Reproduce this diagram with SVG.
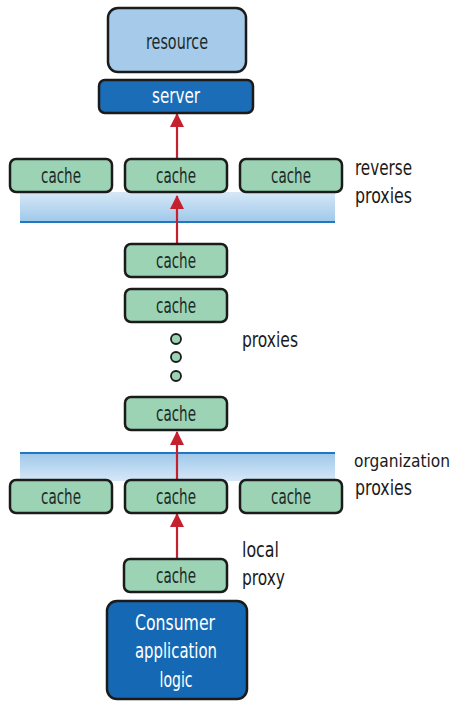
<svg xmlns="http://www.w3.org/2000/svg" width="459" height="704" viewBox="0 0 459 704">
<defs>
<style>
.cache rect{fill:#9bd3b4;stroke:#1b1b1b;stroke-width:2.5}
.t{font-family:"DejaVu Sans Condensed","DejaVu Sans","Liberation Sans",sans-serif;font-stretch:condensed;font-size:21px;fill:#1e2a28;text-anchor:middle}
.lbl{font-family:"DejaVu Sans Condensed","DejaVu Sans","Liberation Sans",sans-serif;font-stretch:condensed;font-size:22px;fill:#1a1a1a}
.w{fill:#ffffff}
.arr{stroke:#c4202e;stroke-width:2.2;fill:none}
.dot{fill:#9bd3b4;stroke:#1b1b1b;stroke-width:1.8}
</style>
<linearGradient id="bandDown" x1="0" y1="0" x2="0" y2="1">
<stop offset="0" stop-color="#d6e8f7"/>
<stop offset="1" stop-color="#9fc8ea"/>
</linearGradient>
<linearGradient id="bandUp" x1="0" y1="0" x2="0" y2="1">
<stop offset="0" stop-color="#9fc8ea"/>
<stop offset="1" stop-color="#d6e8f7"/>
</linearGradient>
<marker id="head" viewBox="0 0 14 14" refX="13" refY="7" markerWidth="14" markerHeight="14" orient="auto" markerUnits="userSpaceOnUse">
<path d="M0,0 L14,7 L0,14 z" fill="#c4202e"/>
</marker>
</defs>

<g id="bands">
<rect x="20" y="192" width="315" height="30" fill="url(#bandDown)"/>
<line x1="20" y1="222" x2="335" y2="222" stroke="#1f78c1" stroke-width="2"/>
<rect x="20" y="453" width="315" height="28" fill="url(#bandUp)"/>
<line x1="20" y1="453" x2="335" y2="453" stroke="#1f78c1" stroke-width="2"/>
</g>

<g id="connectors">
<line class="arr" x1="177" y1="158" x2="177" y2="114" marker-end="url(#head)"/>
<line class="arr" x1="177" y1="244" x2="177" y2="196" marker-end="url(#head)"/>
<line class="arr" x1="177" y1="480" x2="177" y2="432" marker-end="url(#head)"/>
<line class="arr" x1="177" y1="559" x2="177" y2="514" marker-end="url(#head)"/>
</g>

<g id="resource">
<rect x="108" y="8" width="138" height="64" rx="10" fill="#a6cbea" stroke="#1b1b1b" stroke-width="2.5"/>
<text class="t" x="177" y="49" textLength="62" lengthAdjust="spacingAndGlyphs">resource</text>
</g>
<g id="server">
<rect x="99" y="80" width="154" height="33" rx="6" fill="#1a6db6" stroke="#1b1b1b" stroke-width="2.5"/>
<text class="t w" x="176" y="103" textLength="48" lengthAdjust="spacingAndGlyphs">server</text>
</g>

<g id="cache-r1" class="cache"><rect x="10" y="159" width="102" height="33" rx="6"/><text class="t" x="61" y="183" textLength="40" lengthAdjust="spacingAndGlyphs">cache</text></g>
<g id="cache-r2" class="cache"><rect x="125" y="159" width="102" height="33" rx="6"/><text class="t" x="176" y="183" textLength="40" lengthAdjust="spacingAndGlyphs">cache</text></g>
<g id="cache-r3" class="cache"><rect x="240" y="159" width="102" height="33" rx="6"/><text class="t" x="291" y="183" textLength="40" lengthAdjust="spacingAndGlyphs">cache</text></g>
<g id="label-reverse"><text class="lbl" x="355" y="175" textLength="57" lengthAdjust="spacingAndGlyphs">reverse</text><text class="lbl" x="355" y="203" textLength="57" lengthAdjust="spacingAndGlyphs">proxies</text></g>

<g id="cache-p1" class="cache"><rect x="125" y="244" width="102" height="33" rx="6"/><text class="t" x="176" y="268" textLength="40" lengthAdjust="spacingAndGlyphs">cache</text></g>
<g id="cache-p2" class="cache"><rect x="125" y="289" width="102" height="33" rx="6"/><text class="t" x="176" y="313" textLength="40" lengthAdjust="spacingAndGlyphs">cache</text></g>
<g id="dots">
<circle class="dot" cx="176" cy="339" r="5"/>
<circle class="dot" cx="176" cy="357" r="5"/>
<circle class="dot" cx="176" cy="376" r="5"/>
</g>
<g id="label-proxies"><text class="lbl" x="242" y="347" textLength="56" lengthAdjust="spacingAndGlyphs">proxies</text></g>
<g id="cache-p3" class="cache"><rect x="125" y="397" width="102" height="33" rx="6"/><text class="t" x="176" y="421" textLength="40" lengthAdjust="spacingAndGlyphs">cache</text></g>

<g id="cache-o1" class="cache"><rect x="10" y="480" width="102" height="33" rx="6"/><text class="t" x="61" y="504" textLength="40" lengthAdjust="spacingAndGlyphs">cache</text></g>
<g id="cache-o2" class="cache"><rect x="125" y="480" width="102" height="33" rx="6"/><text class="t" x="176" y="504" textLength="40" lengthAdjust="spacingAndGlyphs">cache</text></g>
<g id="cache-o3" class="cache"><rect x="240" y="480" width="102" height="33" rx="6"/><text class="t" x="291" y="504" textLength="40" lengthAdjust="spacingAndGlyphs">cache</text></g>
<g id="label-org"><text class="lbl" x="354" y="467" style="font-size:18px" textLength="96" lengthAdjust="spacingAndGlyphs">organization</text><text class="lbl" x="355" y="495" textLength="57" lengthAdjust="spacingAndGlyphs">proxies</text></g>

<g id="cache-local" class="cache"><rect x="124" y="559" width="103" height="33" rx="6"/><text class="t" x="176" y="583" textLength="40" lengthAdjust="spacingAndGlyphs">cache</text></g>
<g id="label-local"><text class="lbl" x="242" y="557" textLength="37" lengthAdjust="spacingAndGlyphs">local</text><text class="lbl" x="242" y="585" textLength="43" lengthAdjust="spacingAndGlyphs">proxy</text></g>

<g id="consumer">
<rect x="107" y="601" width="140" height="98" rx="10" fill="#1569b4" stroke="#1b1b1b" stroke-width="2.5"/>
<text class="t w" x="175" y="630" textLength="80" lengthAdjust="spacingAndGlyphs">Consumer</text>
<text class="t w" x="176" y="658" textLength="82" lengthAdjust="spacingAndGlyphs">application</text>
<text class="t w" x="176" y="687" textLength="33" lengthAdjust="spacingAndGlyphs">logic</text>
</g>
</svg>
